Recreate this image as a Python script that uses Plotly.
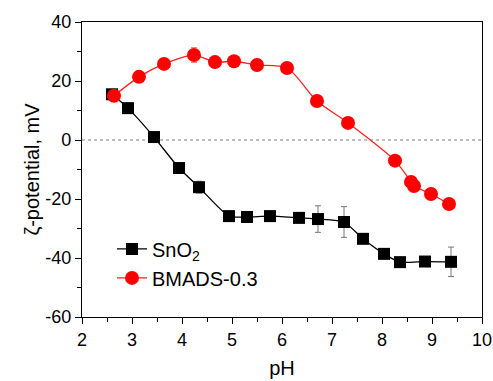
import plotly.graph_objects as go

sno2_ph = [2.6, 2.92, 3.44, 3.94, 4.34, 4.94, 5.3, 5.76, 6.34, 6.72, 7.24, 7.62, 8.04, 8.36, 8.86, 9.38]
sno2_zeta = [15.5, 10.8, 1.0, -9.5, -16.0, -25.8, -26.1, -25.8, -26.4, -26.8, -27.8, -33.5, -38.6, -41.4, -41.2, -41.3]
sno2_err = [0, 0, 0, 0, 2.0, 0, 0, 0, 0, 4.5, 5.2, 0, 0, 0, 1.2, 5.0]

bm_ph = [2.64, 3.14, 3.64, 4.24, 4.66, 5.04, 5.5, 6.1, 6.7, 7.32, 8.26, 8.58, 8.64, 8.98, 9.34]
bm_zeta = [15.0, 21.4, 25.8, 28.8, 26.4, 26.7, 25.4, 24.4, 13.2, 5.8, -7.0, -14.2, -15.6, -18.3, -21.7]
bm_err = [0, 0, 0, 2.5, 0, 0, 0, 0, 0, 0, 0, 0, 0, 0, 0]
bm_xerr = [0, 0, 0, 0, 0, 0, 0, 0, 0, 0, 0.12, 0, 0, 0, 0]

y_tickvals = [-60, -40, -20, 0, 20, 40]
y_ticktext = ["-60", "-40", "-20", "0", "20", "40"]

font = "Liberation Sans, Arial, sans-serif"
tfs = 18
lfs = 20

fig = go.Figure()
fig.add_trace(go.Scatter(
    x=sno2_ph, y=sno2_zeta, mode="lines+markers", name="SnO<sub>2</sub>",
    line=dict(color="black", width=1.3, shape="spline", smoothing=0.6),
    marker=dict(symbol="square", size=12, color="black"),
    error_y=dict(type="data", array=sno2_err, color="#777777", thickness=1, width=3),
))
fig.add_trace(go.Scatter(
    x=bm_ph, y=bm_zeta, mode="lines+markers", name="BMADS-0.3",
    line=dict(color="#ff2020", width=1.3, shape="spline", smoothing=0.8),
    marker=dict(symbol="circle", size=14, color="#ff0000"),
    error_y=dict(type="data", array=bm_err, color="#ff7070", thickness=1, width=3),
    error_x=dict(type="data", array=bm_xerr, color="#ff9090", thickness=1, width=3),
))

fig.add_shape(type="line", xref="x", yref="y", x0=2, x1=10, y0=0, y1=0,
              line=dict(color="#808080", width=1, dash="dot"), layer="below")

axis_common = dict(
    showline=True, linecolor="black", linewidth=1.3, mirror=True,
    ticks="outside", ticklen=6, tickwidth=1.3, tickcolor="black",
    showgrid=False, zeroline=False, automargin=False,
    tickfont=dict(family=font, size=tfs, color="black"),
    minor=dict(ticks="outside", ticklen=3.5, tickwidth=1.3, tickcolor="black"),
)

fig.update_layout(
    width=493, height=381,
    margin=dict(l=82, r=11, t=22, b=64, autoexpand=False),
    plot_bgcolor="white", paper_bgcolor="white",
    showlegend=True,
    legend=dict(x=0.075, y=0.297, xanchor="left", yanchor="top",
                font=dict(family=font, size=lfs, color="black"),
                bgcolor="rgba(0,0,0,0)", tracegroupgap=0),
    xaxis=dict(range=[2, 10], dtick=1, tick0=2,
               title=dict(text="pH", font=dict(family=font, size=lfs, color="black"), standoff=12),
               **axis_common),
    yaxis=dict(range=[-60, 40], tickmode="array", tickvals=y_tickvals, ticktext=y_ticktext,
               title=dict(text="ζ-potential, mV", font=dict(family=font, size=lfs, color="black"), standoff=0),
               **axis_common),
)
fig.update_xaxes(minor=dict(dtick=0.5))
fig.update_yaxes(minor=dict(dtick=10, tick0=0))

fig.write_html("out.html", config={"displayModeBar": False},
               post_script="document.body.style.margin='0';document.body.style.overflow='hidden';")
